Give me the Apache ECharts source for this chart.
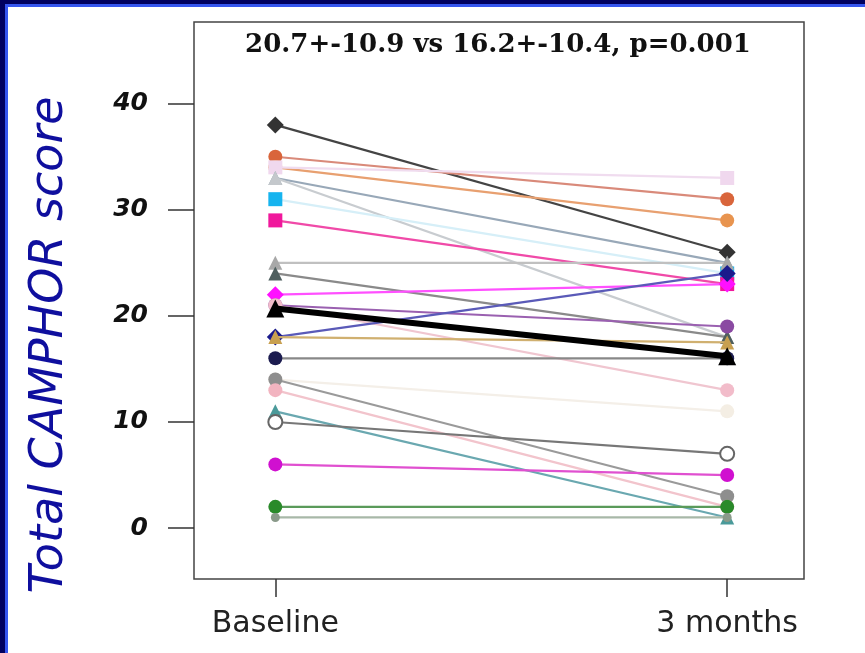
<!DOCTYPE html>
<html>
<head>
<meta charset="utf-8">
<script src="https://cdn.jsdelivr.net/npm/echarts@6/dist/echarts.min.js"></script>
<style>
html,body{margin:0;padding:0;background:#fff;}
#c{width:865px;height:653px;}
</style>
</head>
<body>
<div id="c"></div>
<script>
// ---- data ----
var categories = ['Baseline', '3 months'];
var yTicks = [0, 10, 20, 30, 40];
var titleText = '20.7+-10.9 vs 16.2+-10.4, p=0.001';
var yTitle = 'Total CAMPHOR score';
// individual patients: baseline and 3-month scores
var baselineScores = [14, 38, 35, 34, 34, 33, 33, 31, 29, 25, 24, 22, 21, 21, 18, 18, 16, 14, 13, 11, 10, 6, 2, 1];
var monthScores    = [11, 26, 31, 29, 33, 25, 18, 24, 23, 25, 18, 23, 19, 13, 24, 17.5, 16, 3, 2, 1, 7, 5, 2, 1];
var pointColors = ['#f4eee4','#333333','#d9653b','#e8944f','#f0d8ee','#8fa0ae','#c4c8cc','#16b4ef','#f0189c','#a8a8a8','#4f5f5f','#ff10ff','#8a4aa2','#f2bcca','#1a1a8c','#c8a050','#1c1c50','#8e8e8e','#f2b4c0','#4a9a9a','#ffffff','#d010d0','#2a8a2a','#8a9a8a'];
var lineColors  = ['#f4efe8','#444444','#d98a7a','#e8a070','#f0dcef','#98a8b8','#c8ccd0','#d6eff8','#f04aa8','#c0c0c0','#8a8a8a','#ff50ff','#9a60b0','#f0c6d0','#5a5ab8','#d0b070','#888888','#9a9a9a','#f2c4cc','#6aa8b0','#777777','#e050d0','#5a9a5a','#a8b8a8'];
var pointSymbols = ['circle','diamond','circle','circle','rect','triangle','triangle','rect','rect','triangle','triangle','diamond','circle','circle','diamond','triangle','circle','circle','circle','triangle','circle','circle','circle','circle'];
var meanScores = [20.7, 16.2];

var chart = echarts.init(document.getElementById('c'), null, {renderer: 'canvas'});

var series = [];
for (var i = 0; i < baselineScores.length; i++) {
  var isOpen = pointColors[i] === '#ffffff';
  var size = pointSymbols[i] === 'diamond' ? 17 : 14;
  if (i === baselineScores.length - 1) size = 9;
  series.push({
    type: 'line',
    data: [[0, baselineScores[i]], [1, monthScores[i]]],
    symbol: pointSymbols[i],
    symbolSize: size,
    showSymbol: true,
    lineStyle: {color: lineColors[i], width: 2.2},
    itemStyle: isOpen ? {color: '#ffffff', borderColor: '#666', borderWidth: 2} : {color: pointColors[i], borderWidth: 0},
    z: 2 + i * 0.01,
    silent: true,
    animation: false
  });
}
series.push({
  type: 'line',
  data: [[0, meanScores[0]], [1, meanScores[1]]],
  symbol: 'triangle',
  symbolSize: 18,
  lineStyle: {color: '#000', width: 6},
  itemStyle: {color: '#000'},
  z: 10,
  silent: true,
  animation: false
});

chart.setOption({
  animation: false,
  grid: {left: 194, right: 61, top: 22, bottom: 74, show: true, borderColor: '#444', borderWidth: 1.5, backgroundColor: 'transparent'},
  xAxis: {
    type: 'value', min: -0.18, max: 1.17,
    axisLine: {show: false, onZero: false},
    splitLine: {show: false},
    axisTick: {show: true, customValues: [0, 1], length: 18, lineStyle: {color: '#333', width: 1.5}},
    axisLabel: {
      customValues: [0, 1], margin: 30,
      formatter: function (v) { return categories[Math.round(v)]; },
      fontFamily: 'DejaVu Sans', fontSize: 30, color: '#222'
    }
  },
  yAxis: {
    type: 'value', min: -4.8, max: 47.7,
    axisLine: {show: false, onZero: false},
    splitLine: {show: false},
    axisTick: {show: true, customValues: yTicks, length: 26, lineStyle: {color: '#333', width: 1.5}},
    axisLabel: {
      customValues: yTicks, margin: 46,
      fontFamily: 'DejaVu Sans', fontSize: 25, fontWeight: 'bold', fontStyle: 'italic', color: '#111'
    }
  },
  graphic: [
    {type: 'rect', left: 0, top: 0, shape: {width: 865, height: 7}, style: {fill: '#3555ee'}, z: 100},
    {type: 'rect', left: 0, top: 0, shape: {width: 8, height: 653}, style: {fill: '#3555ee'}, z: 100},
    {type: 'rect', left: 0, top: 0, shape: {width: 865, height: 4}, style: {fill: '#00005e'}, z: 101},
    {type: 'rect', left: 0, top: 0, shape: {width: 5, height: 653}, style: {fill: '#00005e'}, z: 101},
    {type: 'text', x: 498, y: 45, style: {text: titleText, font: 'bold 26px "DejaVu Serif"', fill: '#111', textAlign: 'center', textVerticalAlign: 'middle'}, z: 50},
    {type: 'text', x: 50, y: 345, rotation: Math.PI / 2, style: {text: yTitle, font: 'italic 46px "DejaVu Sans"', fill: '#0f0f9e', textAlign: 'center', textVerticalAlign: 'middle'}, z: 50}
  ],
  series: series
});
</script>
</body>
</html>
